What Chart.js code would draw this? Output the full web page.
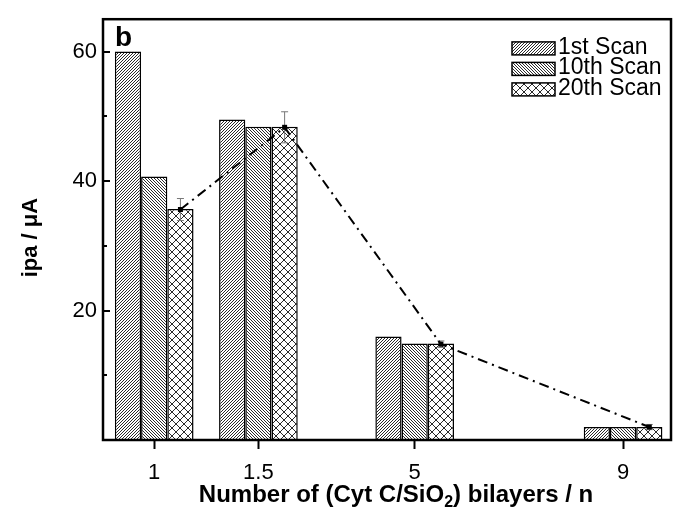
<!DOCTYPE html>
<html>
<head>
<meta charset="utf-8">
<script src="https://cdn.jsdelivr.net/npm/chart.js@4/dist/chart.umd.min.js"></script>
<style>
  html, body { margin: 0; padding: 0; background: #fff; }
</style>
</head>
<body>
<canvas id="chart" width="676" height="516"></canvas>
<script>
var FONT = '"Liberation Sans", Arial, sans-serif';

// bilayer counts and their slot on the x axis
var layers = ["1", "1.5", "5", "9"];
var slots = [0, 2, 5, 9];

// peak anodic current (uA) for each scan
var scan1 = [60.0, 49.5, 16.0, 2.0];
var scan10 = [40.7, 48.4, 14.9, 2.0];
var scan20 = [35.7, 48.4, 14.9, 2.0];

// mean current of the 20th scan and its spread
var meanIpa = [35.6, 48.3, 14.8, 2.0];
var errIpa = [1.7, 2.4, 0.5, 0.4];

var canvas = document.getElementById("chart");
var ctx0 = canvas.getContext("2d");

// pixel hatch tiles: "/" rising, "\" falling, "x" both
function hatch(kind, size) {
  var c = document.createElement("canvas");
  c.width = size;
  c.height = size;
  var g = c.getContext("2d");
  g.fillStyle = "#fff";
  g.fillRect(0, 0, size, size);
  g.fillStyle = "#2a2a2a";
  for (var i = 0; i < size; i++) {
    if (kind !== "\\") g.fillRect(i, size - 1 - i, 1, 1);
    if (kind !== "/") g.fillRect(i, i, 1, 1);
  }
  return ctx0.createPattern(c, "repeat");
}

function points(values) {
  return slots.map(function (s, i) { return { x: s, y: values[i] }; });
}

function barSet(label, values, fill) {
  return {
    label: label,
    data: points(values),
    backgroundColor: fill,
    borderColor: "#000",
    borderWidth: 1.5,
    categoryPercentage: 0.755,
    barPercentage: 1.0
  };
}

// frame, inward y ticks and the panel letter
var frame = {
  id: "frame",
  afterDatasetsDraw: function (chart) {
    var ctx = chart.ctx, a = chart.chartArea, y = chart.scales.y;
    ctx.save();
    ctx.strokeStyle = "#000";
    ctx.lineWidth = 2;
    y.ticks.forEach(function (t) {
      if (t.value <= 0) return;
      var py = Math.round(y.getPixelForValue(t.value));
      var len = t.value % 20 === 0 ? 7 : 4;
      ctx.beginPath();
      ctx.moveTo(a.left, py);
      ctx.lineTo(a.left + len, py);
      ctx.stroke();
    });
    ctx.lineWidth = 2.5;
    ctx.strokeRect(a.left, a.top, a.right - a.left, a.bottom - a.top);
    ctx.fillStyle = "#000";
    ctx.font = "bold 28px " + FONT;
    ctx.textAlign = "left";
    ctx.textBaseline = "alphabetic";
    ctx.fillText("b", a.left + 12, a.top + 26.5);
    ctx.restore();
  }
};

// dash-dot trend through the 20th scan bars, with error bars
var trend = {
  id: "trend",
  afterDatasetsDraw: function (chart) {
    var ctx = chart.ctx, y = chart.scales.y;
    var bars = chart.getDatasetMeta(2).data;
    var pts = bars.map(function (b, i) {
      return { x: b.x, y: y.getPixelForValue(meanIpa[i]) };
    });
    ctx.save();
    ctx.strokeStyle = "#777";
    ctx.lineWidth = 1;
    pts.forEach(function (p, i) {
      var hi = y.getPixelForValue(meanIpa[i] + errIpa[i]);
      var lo = y.getPixelForValue(meanIpa[i] - errIpa[i]);
      ctx.beginPath();
      ctx.moveTo(p.x, hi); ctx.lineTo(p.x, lo);
      ctx.moveTo(p.x - 3.5, hi); ctx.lineTo(p.x + 3.5, hi);
      ctx.moveTo(p.x - 3.5, lo); ctx.lineTo(p.x + 3.5, lo);
      ctx.stroke();
    });
    ctx.strokeStyle = "#000";
    ctx.lineWidth = 2;
    ctx.setLineDash([10, 5, 2, 5]);
    ctx.beginPath();
    pts.forEach(function (p, i) {
      if (i === 0) ctx.moveTo(p.x, p.y);
      else ctx.lineTo(p.x, p.y);
    });
    ctx.stroke();
    ctx.setLineDash([]);
    ctx.fillStyle = "#000";
    pts.forEach(function (p) { ctx.fillRect(p.x - 2.5, p.y - 2.5, 5, 5); });
    ctx.restore();
  }
};

// legend in the upper right corner and both axis titles
var labels = {
  id: "labels",
  afterDraw: function (chart) {
    var ctx = chart.ctx, a = chart.chartArea;
    ctx.save();
    ctx.font = "23px " + FONT;
    ctx.textAlign = "left";
    ctx.textBaseline = "middle";
    chart.data.datasets.forEach(function (ds, i) {
      var bx = a.right - 159, by = a.top + 22.7 + i * 20.5;
      ctx.fillStyle = ds.backgroundColor;
      ctx.fillRect(bx, by, 43, 13);
      ctx.strokeStyle = "#000";
      ctx.lineWidth = 1.5;
      ctx.strokeRect(bx, by, 43, 13);
      ctx.fillStyle = "#000";
      ctx.fillText(ds.label, bx + 46, by + 5.5);
    });

    // x title with a real subscript
    ctx.textBaseline = "alphabetic";
    var big = "bold 24px " + FONT, small = "bold 16px " + FONT;
    var parts = [["Number of (Cyt C/SiO", big, 0], ["2", small, 5], [") bilayers / n", big, 0]];
    var w = 0;
    parts.forEach(function (p) { ctx.font = p[1]; w += ctx.measureText(p[0]).width; });
    var tx = (a.left + a.right) / 2 + 9 - w / 2, ty = 502;
    parts.forEach(function (p) {
      ctx.font = p[1];
      ctx.fillText(p[0], tx, ty + p[2]);
      tx += ctx.measureText(p[0]).width;
    });

    // y title
    ctx.translate(31, (a.top + a.bottom) / 2 + 8);
    ctx.rotate(-Math.PI / 2);
    ctx.font = "bold 22px " + FONT;
    ctx.textAlign = "center";
    ctx.textBaseline = "middle";
    ctx.fillText("ipa / \u03bcA", 0, 0);
    ctx.restore();
  }
};

new Chart(canvas, {
  type: "bar",
  data: {
    datasets: [
      barSet("1st Scan", scan1, hatch("/", 3)),
      barSet("10th Scan", scan10, hatch("\\", 3)),
      barSet("20th Scan", scan20, hatch("x", 8))
    ]
  },
  options: {
    responsive: false,
    animation: false,
    devicePixelRatio: 1,
    layout: { padding: { top: 14, right: 5, left: 0, bottom: 0 } },
    plugins: { legend: { display: false }, tooltip: { enabled: false } },
    scales: {
      x: {
        type: "linear",
        min: -0.983,
        max: 9.92,
        offset: false,
        afterBuildTicks: function (scale) {
          scale.ticks = slots.map(function (s) { return { value: s }; });
        },
        afterFit: function (scale) { scale.height = 76; },
        grid: {
          offset: false,
          drawOnChartArea: false,
          drawTicks: true,
          tickLength: 9,
          tickWidth: 2,
          tickColor: "#000"
        },
        border: { display: false },
        ticks: {
          autoSkip: false,
          maxRotation: 0,
          padding: 11,
          color: "#000",
          font: { family: FONT, size: 22 },
          callback: function (v) { return layers[slots.indexOf(v)]; }
        }
      },
      y: {
        min: 0,
        max: 65,
        afterFit: function (scale) { scale.width = 103; },
        grid: { display: false, drawTicks: false },
        border: { display: false },
        ticks: {
          stepSize: 10,
          includeBounds: false,
          padding: 6,
          color: "#000",
          font: { family: FONT, size: 22 },
          callback: function (v) { return v > 0 && v % 20 === 0 ? v : ""; }
        }
      }
    }
  },
  plugins: [frame, trend, labels]
});
</script>
</body>
</html>
